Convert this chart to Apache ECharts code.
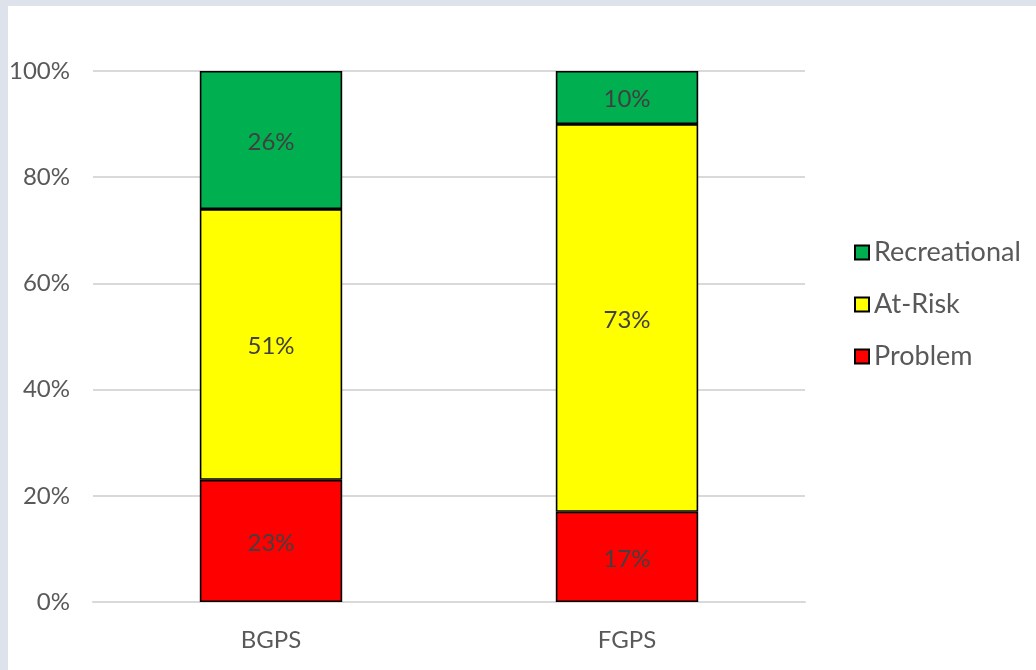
<!DOCTYPE html>
<html>
<head>
<meta charset="utf-8">
<script src="https://cdn.jsdelivr.net/npm/echarts@6/dist/echarts.min.js"></script>
<style>
  html, body { margin: 0; padding: 0; background: #dde2eb; }
  #main { position: absolute; left: 8px; top: 6px; width: 1028px; height: 664px; background: #fff; }
</style>
</head>
<body>
<div id="main"></div>
<script>
var categories = ['BGPS', 'FGPS'];
var problem = [23, 17];
var atRisk = [51, 73];
var recreational = [26, 10];
var yTicks = [0, 20, 40, 60, 80, 100];

var chartDom = document.getElementById('main');
var myChart = echarts.init(chartDom);

function barSeries(name, data, color) {
  return {
    name: name,
    type: 'bar',
    stack: 'total',
    data: data,
    barWidth: '40%',
    itemStyle: { color: color, borderColor: '#000', borderWidth: 1.6 },
    label: {
      show: true,
      position: 'inside',
      formatter: '{c}%',
      color: '#404040',
      fontSize: 24,
      fontFamily: 'Lato',
      offset: [0, 2]
    }
  };
}

var option = {
  animation: false,
  textStyle: { fontFamily: 'Lato' },
  grid: { left: 85, right: 231, top: 65, bottom: 68, outerBoundsMode: 'none' },
  legend: {
    orient: 'vertical',
    left: 841,
    top: 228,
    itemWidth: 14,
    itemHeight: 14,
    itemGap: 25,
    data: ['Recreational', 'At-Risk', 'Problem'],
    icon: 'rect',
    itemStyle: { borderColor: '#000', borderWidth: 2 },
    textStyle: { color: '#595959', fontSize: 27, fontFamily: 'Lato', lineHeight: 26 }
  },
  xAxis: {
    type: 'category',
    data: categories,
    axisTick: { show: false },
    axisLine: { lineStyle: { color: '#d9d9d9', width: 2 } },
    axisLabel: { color: '#595959', fontSize: 24, margin: 26 }
  },
  yAxis: {
    type: 'value',
    min: yTicks[0],
    max: yTicks[yTicks.length - 1],
    interval: 20,
    axisLine: { show: false },
    axisTick: { show: false },
    splitLine: { lineStyle: { color: '#d9d9d9', width: 2 } },
    axisLabel: { color: '#595959', fontSize: 24, margin: 23, formatter: '{value}%' }
  },
  series: [
    barSeries('Problem', problem, '#ff0000'),
    barSeries('At-Risk', atRisk, '#ffff00'),
    barSeries('Recreational', recreational, '#00b050')
  ]
};

option && myChart.setOption(option);
</script>
</body>
</html>
